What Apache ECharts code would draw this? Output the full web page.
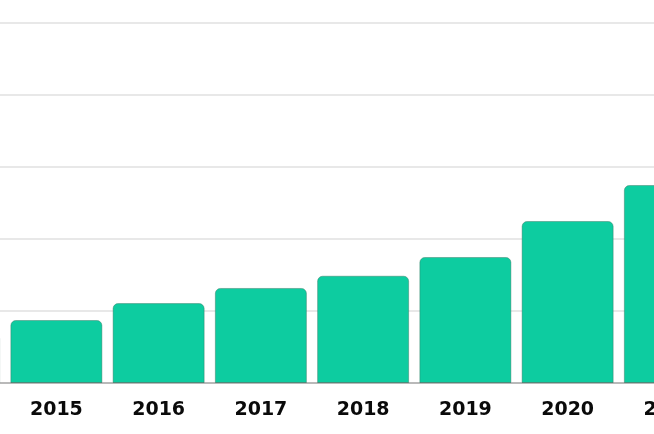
<!DOCTYPE html>
<html>
<head>
<meta charset="utf-8">
<script src="https://cdn.jsdelivr.net/npm/echarts@6/dist/echarts.min.js"></script>
<style>
html,body{margin:0;padding:0;background:#fff;overflow:hidden;width:654px;height:434px;position:relative;}
#chart{position:absolute;left:-96.7px;top:0;width:818.4px;height:434px;}
</style>
</head>
<body>
<div id="chart"></div>
<script>
const categories = ['2014','2015','2016','2017','2018','2019','2020','2021'];
const values = [0.69, 0.875, 1.11, 1.32, 1.49, 1.75, 2.25, 2.75];
const yTicks = [0, 1, 2, 3, 4, 5];

const chart = echarts.init(document.getElementById('chart'));
chart.setOption({
  animation: false,
  backgroundColor: '#ffffff',
  grid: { left: 0, right: 0, top: 23, bottom: 51, containLabel: false },
  xAxis: {
    type: 'category',
    data: categories,
    z: 10,
    axisLine: { show: true, lineStyle: { color: 'rgba(0,0,0,0.2)', width: 2 } },
    axisTick: { show: false },
    axisLabel: {
      margin: 18,
      color: '#0a0a0a',
      fontFamily: 'DejaVu Sans',
      fontWeight: 'bold',
      fontSize: 19
    }
  },
  yAxis: {
    type: 'value',
    min: yTicks[0],
    max: yTicks[yTicks.length - 1],
    interval: 1,
    axisLabel: { show: false },
    axisLine: { show: false },
    axisTick: { show: false },
    splitLine: { lineStyle: { color: '#e8e8e8', width: 2 } }
  },
  series: [{
    type: 'bar',
    data: values,
    barCategoryGap: '10%',
    itemStyle: {
      color: '#0dcca0',
      borderRadius: [5, 5, 0, 0],
      borderColor: 'rgba(60,120,100,0.45)',
      borderWidth: 1
    }
  }]
});
</script>
</body>
</html>
